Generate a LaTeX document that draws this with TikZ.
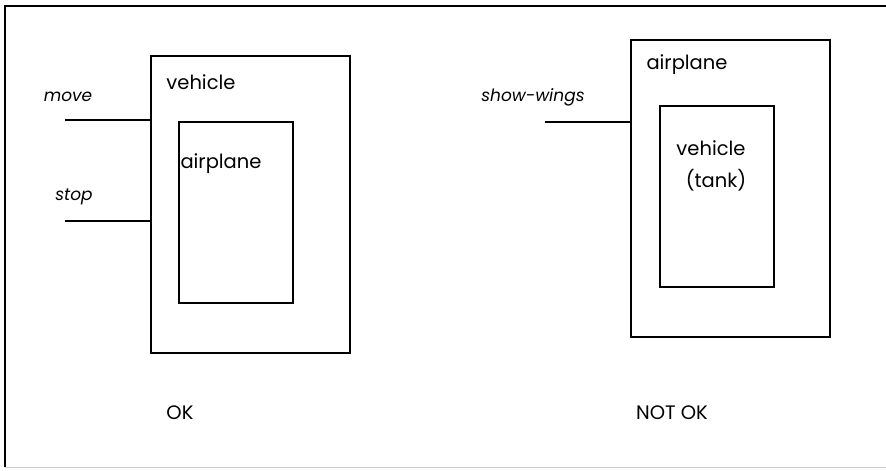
\documentclass[tikz,border=0pt]{standalone}
\usepackage{fontspec}
\setmainfont{Poppins}
\begin{document}
\begin{tikzpicture}[x=1pt,y=-1pt,
  box/.style={draw,line width=2.2pt,anchor=north west,inner sep=0pt},
  wire/.style={line width=2.2pt},
  lbl/.style={inner sep=0pt,font=\fontsize{19.5}{22}\selectfont},
  msg/.style={inner sep=0pt,font=\fontsize{17}{19}\selectfont\itshape}]
\useasboundingbox (0,0) rectangle (886,471);
% page frame
\draw[line width=2.6pt] (886,6) -- (5,6) -- (5,467);
\draw[line width=1pt,black!20] (5,467) -- (886,467);

% left case
\node[box,minimum width=199pt,minimum height=297pt] (vehicle) at (150,55) {};
\node[box,minimum width=114pt,minimum height=181pt] (plane) at (178,121) {};
\node[lbl] (vehlbl) at (201,82) {vehicle};
\node[lbl] (planelbl) at (221,164) {airplane};
\node[msg] (move) at (68,97) {move};
\node[msg] (stop) at (74,197) {stop};
\coordinate (moveend) at (65,120);
\coordinate (stopend) at (65,221);
\draw[wire] (moveend) -- (moveend -| vehicle.west);
\draw[wire] (stopend) -- (stopend -| vehicle.west);
\node[lbl] (ok) at (180,413) {OK};

% right case
\node[box,minimum width=199pt,minimum height=297pt] (plane2) at (630,39) {};
\node[box,minimum width=114pt,minimum height=181pt] (vehicle2) at (659,105) {};
\node[lbl] (plane2lbl) at (687,65) {airplane};
\node[lbl] (veh2lbl) at (711,148) {vehicle};
\node[lbl] (tank) at (716,180) {(tank)};
\node[msg] (wings) at (533,97) {show-wings};
\coordinate (wingsend) at (545,122);
\draw[wire] (wingsend) -- (wingsend -| plane2.west);
\node[lbl] (notok) at (672,413) {NOT OK};
\end{tikzpicture}
\end{document}
